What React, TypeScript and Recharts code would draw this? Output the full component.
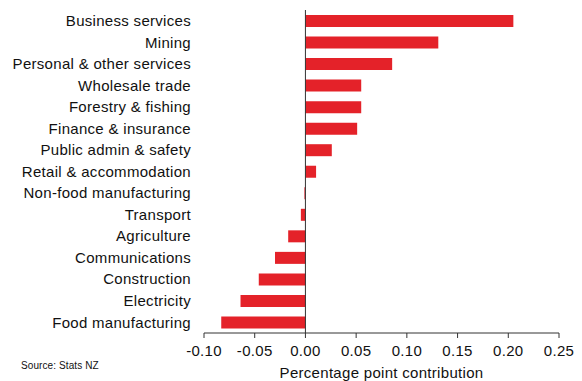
import { BarChart, Bar, XAxis, YAxis, ReferenceLine } from 'recharts';

// Industry contributions, top to bottom
const industries = [
  'Business services',
  'Mining',
  'Personal & other services',
  'Wholesale trade',
  'Forestry & fishing',
  'Finance & insurance',
  'Public admin & safety',
  'Retail & accommodation',
  'Non-food manufacturing',
  'Transport',
  'Agriculture',
  'Communications',
  'Construction',
  'Electricity',
  'Food manufacturing',
];

const contributions = [
  0.205, 0.131, 0.0855, 0.055, 0.055, 0.051, 0.026, 0.0105,
  -0.001, -0.0045, -0.017, -0.03, -0.046, -0.064, -0.083,
];

const xTicks = [-0.1, -0.05, 0, 0.05, 0.1, 0.15, 0.2, 0.25];

const data = industries.map((name, i) => ({ name, value: contributions[i] }));

const FONT = 'Liberation Sans, Arial, sans-serif';
const textStyle = { fontSize: 15, fontFamily: FONT, fill: '#111', letterSpacing: 0.3 };

export default function App() {
  return (
    <div style={{ position: 'absolute', left: 0, top: 0, width: 582, height: 381, background: '#fff' }}>
      <BarChart
        width={582}
        height={381}
        data={data}
        layout="vertical"
        margin={{ top: 10, right: 23, left: 0, bottom: 0 }}
        barSize={12}
      >
        <XAxis
          type="number"
          domain={[-0.1, 0.25]}
          ticks={xTicks}
          tickFormatter={(v: number) => v.toFixed(2)}
          height={48}
          tickSize={5}
          tickMargin={7}
          axisLine={{ stroke: '#333' }}
          tickLine={{ stroke: '#333' }}
          tick={textStyle}
          label={{
            value: 'Percentage point contribution',
            position: 'insideBottom',
            offset: 3,
            style: { ...textStyle, textAnchor: 'middle' },
          }}
        />
        <YAxis
          type="category"
          dataKey="name"
          width={204}
          axisLine={false}
          tickLine={false}
          tickMargin={7}
          interval={0}
          tick={textStyle}
        />
        <Bar dataKey="value" fill="#E42229" isAnimationActive={false} />
        <ReferenceLine x={0} stroke="#333" strokeWidth={1} />
      </BarChart>
      <div
        style={{
          position: 'absolute',
          left: 21,
          top: 360,
          fontFamily: FONT,
          fontSize: 10,
          letterSpacing: 0.1,
          color: '#111',
        }}
      >
        Source: Stats NZ
      </div>
    </div>
  );
}
